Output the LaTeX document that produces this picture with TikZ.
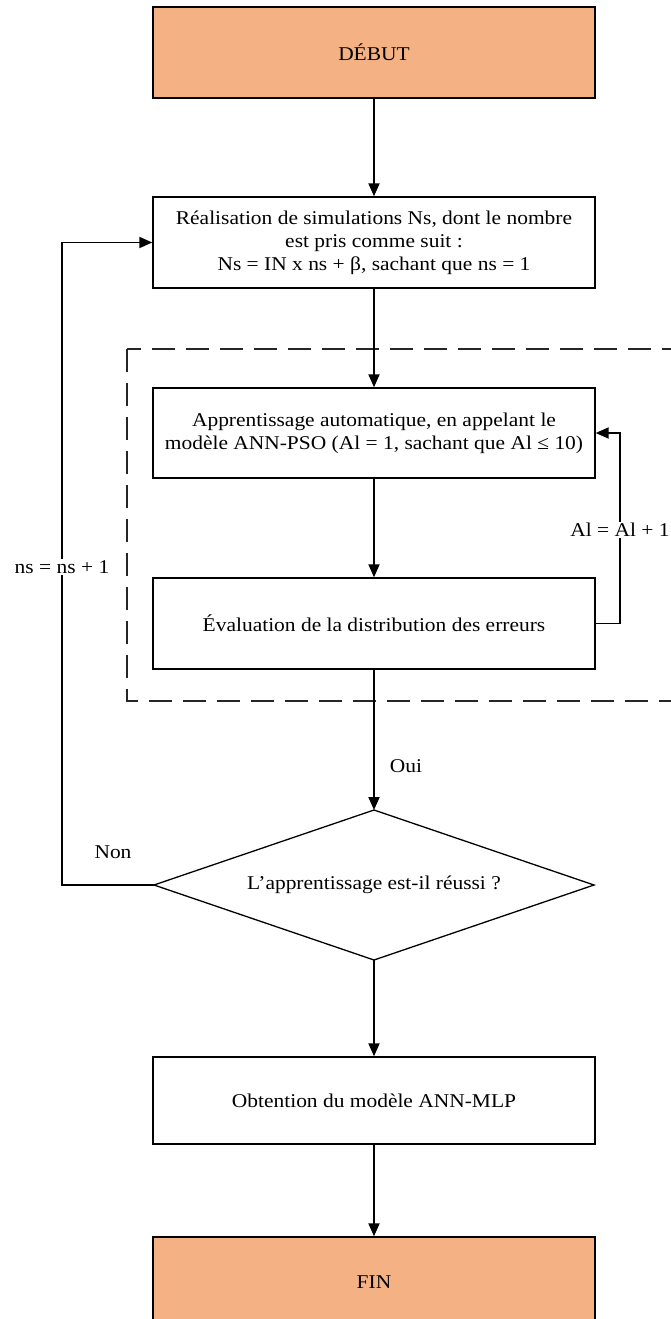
\documentclass[tikz,border=0pt]{standalone}
\usepackage{fontspec}
\setmainfont{Liberation Serif}[FakeStretch=1.1]
\usetikzlibrary{arrows.meta}
\definecolor{orangefill}{RGB}{244,177,131}
\begin{document}
\begin{tikzpicture}[x=1pt,y=-1pt,
  txt/.style={font=\fontsize{19.5}{23}\selectfont},
  box/.style={draw=black,line width=1.4pt,minimum width=442pt,inner sep=0pt,align=center,txt},
  term/.style={box,fill=orangefill},
  arr/.style={line width=1.9pt,-{Triangle[length=13pt,width=11pt]}},
  lbl/.style={txt,inner sep=1pt}]
\useasboundingbox (0,0) rectangle (670,1319);
% dashed group frame
\draw[line width=1.1pt,black!85,dash pattern=on 23pt off 11pt] (127,349) rectangle (700,701);
% nodes
\node[term,minimum height=91pt] (debut) at (374,52.5) {DÉBUT};
\node[box,minimum height=91pt] (sim) at (374,242.5) {Réalisation de simulations Ns, dont le nombre\\est pris comme suit :\\Ns = IN x ns + β, sachant que ns = 1};
\node[box,minimum height=90pt] (app) at (374,433) {Apprentissage automatique, en appelant le\\modèle ANN-PSO (Al = 1, sachant que Al ≤ 10)};
\node[box,minimum height=91pt] (eval) at (374,623.5) {Évaluation de la distribution des erreurs};
% decision diamond
\coordinate (dt) at (374,810);
\coordinate (dl) at (154,885);
\coordinate (dr) at (594,885);
\coordinate (db) at (374,960);
\draw[line width=1.3pt,line join=miter] (dt) -- (dr) -- (db) -- (dl) -- cycle;
\node[txt] (dec) at (374,885) {L'apprentissage est-il réussi ?};
\node[box,minimum height=87pt] (obt) at (374,1100.5) {Obtention du modèle ANN-MLP};
\node[term,minimum height=90pt] (fin) at (374,1282) {FIN};
% main flow
\draw[arr] (debut) -- (sim);
\draw[arr] (sim) -- (app);
\draw[arr] (app) -- (eval);
\draw[arr] (eval) -- (dt);
\draw[arr] (db) -- (obt);
\draw[arr] (obt) -- (fin);
% loops
\coordinate (nl) at (62,885);
\coordinate (nu) at (62,242.5);
\draw[arr] (dl) -- (nl) -- (nu) -- (sim.west);
\coordinate (ar) at (620,623.5);
\coordinate (au) at (620,433);
\draw[arr] (eval.east) -- (ar) -- (au) -- (app.east);
% labels
\node[lbl,fill=white] (lns) at (62,567) {ns = ns + 1};
\node[lbl,fill=white] (lal) at (620,530) {Al = Al + 1};
\node[lbl] (loui) at (406,766) {Oui};
\node[lbl] (lnon) at (113,852) {Non};
\end{tikzpicture}
\end{document}
